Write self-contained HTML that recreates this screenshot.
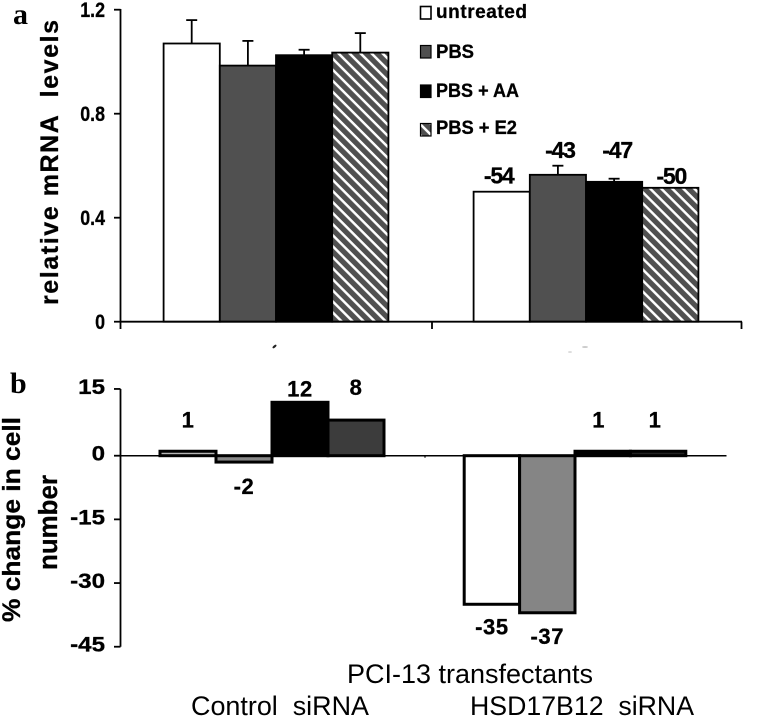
<!DOCTYPE html>
<html lang="en">
<head>
<meta charset="utf-8">
<title>PCI-13 transfectants chart</title>
<style>
html,body{margin:0;padding:0;background:#fff;width:774px;height:717px;overflow:hidden}
svg{display:block;filter:blur(.35px)}
text{font-family:"Liberation Sans",sans-serif;fill:#000}
.b{font-weight:bold;stroke:#000;stroke-width:.3px}
</style>
</head>
<body>
<svg id="chart" xmlns="http://www.w3.org/2000/svg" width="774" height="717" viewBox="0 0 774 717">
<defs>
<pattern id="hatch" patternUnits="userSpaceOnUse" width="7.8" height="7.8" patternTransform="rotate(45)">
<rect width="7.8" height="7.8" fill="#505050"/>
<rect y="0" width="7.8" height="2.5" fill="#fff"/>
</pattern>
</defs>
<text x="13" y="24" style="font-family:'Liberation Serif',serif;font-weight:bold;font-size:30px">a</text>
<text x="10" y="393" style="font-family:'Liberation Serif',serif;font-weight:bold;font-size:30px">b</text>
<text class="b" transform="translate(58,305) rotate(-90)" font-size="25" textLength="285" xml:space="preserve">relative mRNA  levels</text>
<text class="b" transform="translate(20,622) rotate(-90)" font-size="25" textLength="205" lengthAdjust="spacingAndGlyphs">% change in cell</text>
<text class="b" transform="translate(57,570) rotate(-90)" font-size="25.5" textLength="95" lengthAdjust="spacingAndGlyphs">number</text>
<g>
<g><rect x="420.5" y="6.5" width="10.5" height="12.5" fill="#fff" stroke="#000" stroke-width="1.6"/><text class="b" x="436" y="18" font-size="19" textLength="91">untreated</text></g>
<g><rect x="420.5" y="45.5" width="10.5" height="12.5" fill="#505050" stroke="#000" stroke-width="1.2"/><text class="b" x="436" y="58" font-size="19" textLength="38" lengthAdjust="spacingAndGlyphs">PBS</text></g>
<g><rect x="420.5" y="85" width="10.5" height="12.5" fill="#000" stroke="#000" stroke-width="1.2"/><text class="b" x="436" y="97" font-size="19" textLength="83" lengthAdjust="spacingAndGlyphs">PBS + AA</text></g>
<g><rect x="420.5" y="123.5" width="10.5" height="12.5" fill="url(#hatch)" stroke="#000" stroke-width="1.2"/><text class="b" x="436" y="134" font-size="19" textLength="81" lengthAdjust="spacingAndGlyphs">PBS + E2</text></g>
</g>
<text x="347" y="683" font-size="27" textLength="246" lengthAdjust="spacingAndGlyphs">PCI-13 transfectants</text>
<text x="191" y="715" font-size="27" textLength="178" lengthAdjust="spacingAndGlyphs" xml:space="preserve">Control  siRNA</text>
<text x="470" y="715" font-size="27" textLength="224" lengthAdjust="spacingAndGlyphs" xml:space="preserve">HSD17B12  siRNA</text>
<ellipse cx="274.5" cy="346.5" rx="2.4" ry="1.1" fill="#222" transform="rotate(-40 274.5 346.5)"/>
<ellipse cx="585" cy="347" rx="3" ry="1" fill="#ccc"/>
<ellipse cx="570" cy="352" rx="2" ry="1" fill="#ddd"/>
</svg>
<script>
// Panel a data
var mrnaGroups = ["Control siRNA", "HSD17B12 siRNA"];
var mrnaSeries = ["untreated", "PBS", "PBS + AA", "PBS + E2"];
var mrnaControl = [1.07, 0.985, 1.025, 1.035];
var mrnaHsd = [0.50, 0.565, 0.538, 0.515];
var mrnaControlErrTop = [1.16, 1.08, 1.046, 1.11];
var mrnaHsdErrTop = [null, 0.60, 0.55, null];
var mrnaHsdLabels = ["-54", "-43", "-47", "-50"];
var mrnaTicks = ["0", "0.4", "0.8", "1.2"];
// Panel b data
var cellControl = [1, -1.5, 12, 8];
var cellHsd = [-35, -37, 1, 1];
var cellControlLabels = ["1", "-2", "12", "8"];
var cellHsdLabels = ["-35", "-37", "1", "1"];
var cellTicks = ["15", "0", "-15", "-30", "-45"];

var svg = document.getElementById('chart');
var NS = 'http://www.w3.org/2000/svg';
function mk(tag, attrs, parent) {
  var e = document.createElementNS(NS, tag);
  for (var k in attrs) e.setAttribute(k, attrs[k]);
  (parent || svg).appendChild(e);
  return e;
}

// Axis functions
function yA(v) { return 321.7 - v * 260; }
function yB(v) { return 455.7 - v * (v > 0 ? 4.45 : 4.245); }
var barW = 56.2;
function xBar(center, i) { return center + (i - 2) * barW; }

var aFills = ['#fff', '#505050', '#000', 'url(#hatch)'];
var bFillsControl = ['#b5b5b5', '#888', '#000', '#3c3c3c'];
var bFillsHsd = ['#fff', '#858585', '#000', '#222'];
var aCenters = [276, 586];
var bCenters = [272, 575];

// Label nudges: layout offsets only
var aLabelNudgeY = [-8, -17, -24, -4];
var aLabelNudgeX = [-3, 2, 3, 1];
var bControlNudge = [-24, 32, -6, -25];
var bHsdNudge = [30, 31, -24, -24];
var bHsdNudgeX = [0, 0, -4, -3];

function tickLabel(txt, y, fs, sx, name) {
  var t = mk('text', {'class': 'b', 'font-size': fs, 'text-anchor': 'end', transform: 'translate(105,' + y + ') scale(' + sx + ',1)'});
  
  
  t.textContent = txt;
}
function line(x1, y1, x2, y2, sw, name) {
  var l = mk('line', {x1: x1, y1: y1, x2: x2, y2: y2, stroke: '#000', 'stroke-width': sw});
  
  
}
function bar(x, w, y0, y1, fill, sw, name) {
  var r = mk('rect', {x: x, y: Math.min(y0, y1), width: w, height: Math.abs(y1 - y0), fill: fill, stroke: '#000', 'stroke-width': sw});
  
  
}
function valueLabel(txt, x, y, fs, name) {
  var t = mk('text', {'class': 'b', x: x, y: y, 'font-size': fs, 'text-anchor': 'middle'});
  
  
  t.textContent = txt;
  return t;
}

// Panel a: error bars, then bars
[mrnaControl, mrnaHsd].forEach(function (vals, g) {
  var errs = g === 0 ? mrnaControlErrTop : mrnaHsdErrTop;
  vals.forEach(function (v, i) {
    var x = xBar(aCenters[g], i);
    if (errs[i] !== null) {
      line(x + barW / 2, yA(v), x + barW / 2, yA(errs[i]), 1.8, 'error-bar-a-' + g + '-' + i);
      line(x + barW / 2 - 5.5, yA(errs[i]), x + barW / 2 + 5.5, yA(errs[i]), 1.8, 'error-cap-a-' + g + '-' + i);
    }
    bar(x, barW, yA(0), yA(v), aFills[i], 1.8, 'bar-a-' + g + '-' + i);
  });
});
mrnaHsd.forEach(function (v, i) {
  var t = valueLabel(mrnaHsdLabels[i], xBar(aCenters[1], i) + barW / 2 + aLabelNudgeX[i], yA(v) + aLabelNudgeY[i], 23, 'value-label-a-' + i);
  t.setAttribute('letter-spacing', '-1.2');
});
line(120.5, 9, 120.5, 329, 1.8, 'y-axis-a');
line(120, 321.7, 742, 321.7, 1.8, 'x-axis-a');
line(432, 321.7, 432, 329, 1.8, 'x-tick-a-1');
line(741.5, 321.7, 741.5, 329, 1.8, 'x-tick-a-2');
mrnaTicks.forEach(function (lab, i) {
  var v = parseFloat(lab);
  line(114, yA(v), 120.5, yA(v), 1.8, 'y-tick-a-' + lab);
  tickLabel(lab, yA(v) + 7.5, 21, 0.85, 'y-tick-label-a-' + lab);
});

// Panel b
line(120.5, 389, 120.5, 646.7, 1.8, 'y-axis-b');
line(120, yB(0), 726.5, yB(0), 1.5, 'x-axis-b');
line(425, yB(0), 425, yB(0) + 2, 1.2, 'x-tick-b-1');
cellTicks.forEach(function (lab) {
  var v = parseFloat(lab);
  line(114, yB(v), 120.5, yB(v), 1.8, 'y-tick-b-' + lab);
  tickLabel(lab, yB(v) + 5, 21, 1.15, 'y-tick-label-b-' + lab);
});
[cellControl, cellHsd].forEach(function (vals, g) {
  var fills = g === 0 ? bFillsControl : bFillsHsd;
  var nudge = g === 0 ? bControlNudge : bHsdNudge;
  var labels = g === 0 ? cellControlLabels : cellHsdLabels;
  var w = g === 0 ? 56 : 55.4;
  vals.forEach(function (v, i) {
    var x = bCenters[g] + (i - 2) * w;
    bar(x, w, yB(0), yB(v), fills[i], 3, 'bar-b-' + g + '-' + i);
    var dx = g === 1 ? bHsdNudgeX[i] : 0;
    var t = valueLabel(labels[i], x + w / 2 + dx, yB(v) + nudge[i], 22, 'value-label-b-' + g + '-' + i);
    t.setAttribute('letter-spacing', '0.6');
  });
});
</script>
</body>
</html>
